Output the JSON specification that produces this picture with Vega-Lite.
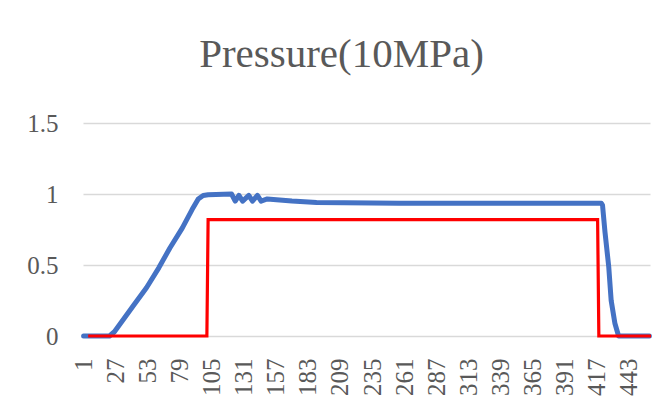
{
  "$schema": "https://vega.github.io/schema/vega-lite/v6.json",
  "autosize": {"type": "none"},
  "padding": {"left": 83, "top": 123, "right": 18, "bottom": 67},
  "width": 567,
  "height": 213,
  "background": "#ffffff",
  "config": {
    "view": {"stroke": null},
    "font": "Liberation Serif"
  },
  "title": {
    "text": "Pressure(10MPa)",
    "font": "Liberation Serif",
    "fontSize": 41,
    "fontWeight": "normal",
    "color": "#595959",
    "anchor": "middle",
    "frame": "group",
    "baseline": "alphabetic",
    "offset": 3,
    "dx": -25
  },
  "data": {
    "values": [
      {"i": 1, "v": 0, "s": "Pressure"},
      {"i": 22, "v": 0, "s": "Pressure"},
      {"i": 26, "v": 0.03, "s": "Pressure"},
      {"i": 31, "v": 0.09, "s": "Pressure"},
      {"i": 41, "v": 0.21, "s": "Pressure"},
      {"i": 52, "v": 0.34, "s": "Pressure"},
      {"i": 62, "v": 0.48, "s": "Pressure"},
      {"i": 71, "v": 0.62, "s": "Pressure"},
      {"i": 81, "v": 0.76, "s": "Pressure"},
      {"i": 89, "v": 0.89, "s": "Pressure"},
      {"i": 94, "v": 0.965, "s": "Pressure"},
      {"i": 98, "v": 0.99, "s": "Pressure"},
      {"i": 102, "v": 0.995, "s": "Pressure"},
      {"i": 121, "v": 1.0, "s": "Pressure"},
      {"i": 124, "v": 0.95, "s": "Pressure"},
      {"i": 127, "v": 0.99, "s": "Pressure"},
      {"i": 130, "v": 0.95, "s": "Pressure"},
      {"i": 135, "v": 0.99, "s": "Pressure"},
      {"i": 138, "v": 0.95, "s": "Pressure"},
      {"i": 142, "v": 0.99, "s": "Pressure"},
      {"i": 145, "v": 0.95, "s": "Pressure"},
      {"i": 150, "v": 0.965, "s": "Pressure"},
      {"i": 170, "v": 0.95, "s": "Pressure"},
      {"i": 190, "v": 0.94, "s": "Pressure"},
      {"i": 257, "v": 0.935, "s": "Pressure"},
      {"i": 421, "v": 0.935, "s": "Pressure"},
      {"i": 422, "v": 0.92, "s": "Pressure"},
      {"i": 424, "v": 0.73, "s": "Pressure"},
      {"i": 427, "v": 0.49, "s": "Pressure"},
      {"i": 429, "v": 0.25, "s": "Pressure"},
      {"i": 432, "v": 0.09, "s": "Pressure"},
      {"i": 435, "v": 0, "s": "Pressure"},
      {"i": 460, "v": 0, "s": "Pressure"},
      {"i": 6, "v": 0, "s": "Signal"},
      {"i": 101, "v": 0, "s": "Signal"},
      {"i": 102, "v": 0.82, "s": "Signal"},
      {"i": 418, "v": 0.82, "s": "Signal"},
      {"i": 419, "v": 0, "s": "Signal"},
      {"i": 460, "v": 0, "s": "Signal"}
    ]
  },
  "encoding": {
    "x": {
      "field": "i",
      "type": "quantitative",
      "scale": {"domain": [0.5, 460.5], "nice": false, "zero": false},
      "axis": {
        "title": null,
        "values": [1, 27, 53, 79, 105, 131, 157, 183, 209, 235, 261, 287, 313, 339, 365, 391, 417, 443],
        "labelAngle": -90,
        "labelAlign": "right",
        "labelBaseline": "middle",
        "labelFont": "Liberation Serif",
        "labelFontSize": 25,
        "labelColor": "#595959",
        "labelPadding": 22,
        "labelFlush": false,
        "labelOverlap": false,
        "domain": false,
        "ticks": false,
        "tickSize": 0,
        "grid": false
      }
    },
    "y": {
      "field": "v",
      "type": "quantitative",
      "scale": {"domain": [0, 1.5], "nice": false},
      "axis": {
        "title": null,
        "values": [0, 0.5, 1, 1.5],
        "format": "~g",
        "labelFont": "Liberation Serif",
        "labelFontSize": 25,
        "labelColor": "#595959",
        "labelPadding": 25,
        "domain": false,
        "ticks": false,
        "tickSize": 0,
        "grid": true,
        "gridColor": "#d9d9d9",
        "gridWidth": 1.5
      }
    }
  },
  "layer": [
    {
      "transform": [{"filter": "datum.s === 'Pressure'"}],
      "mark": {"type": "line", "color": "#4472C4", "strokeWidth": 5, "strokeCap": "round", "strokeJoin": "round"}
    },
    {
      "transform": [{"filter": "datum.s === 'Signal'"}],
      "mark": {"type": "line", "color": "#FF0000", "strokeWidth": 3.2, "strokeCap": "square", "strokeJoin": "miter"}
    }
  ]
}
